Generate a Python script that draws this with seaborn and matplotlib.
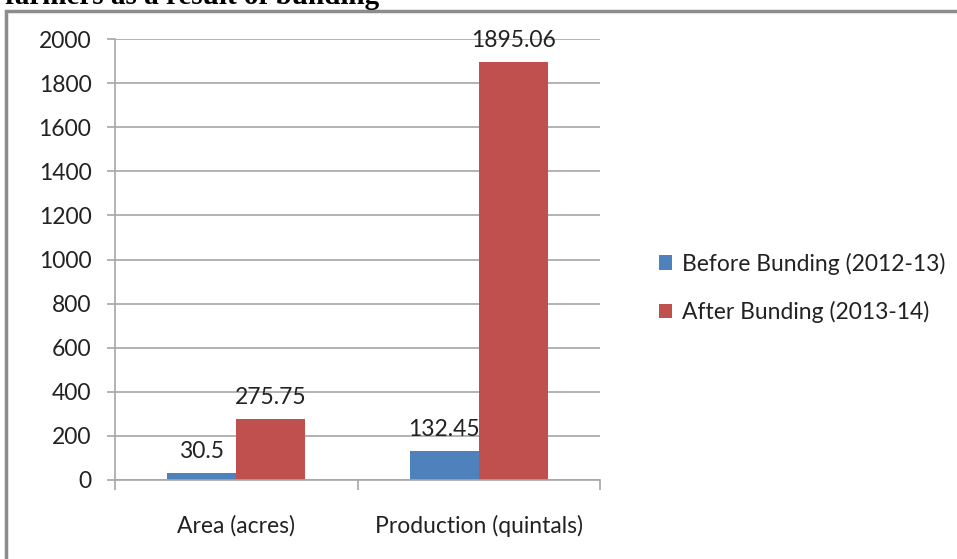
import matplotlib
matplotlib.use("Agg")
import matplotlib.pyplot as plt
import seaborn as sns
import pandas as pd
from matplotlib.patches import Rectangle
from matplotlib.ticker import FixedLocator

categories = ["Area (acres)", "Production (quintals)"]
series_names = ["Before Bunding (2012-13)", "After Bunding (2013-14)"]
before_vals = [30.5, 132.45]
after_vals = [275.75, 1895.06]
label_before = ["30.5", "132.45"]
label_after = ["275.75", "1895.06"]
yticks = [0, 200, 400, 600, 800, 1000, 1200, 1400, 1600, 1800, 2000]

df = pd.DataFrame({
    "category": categories * 2,
    "series": [series_names[0]] * 2 + [series_names[1]] * 2,
    "value": before_vals + after_vals,
})

sns.set_style("white")
plt.rcParams["font.family"] = ["Lato", "DejaVu Sans"]

FS = 16.5
W, H = 957, 559
fig = plt.figure(figsize=(W / 100, H / 100), dpi=100)
ax = fig.add_axes([115 / W, (H - 480) / H, (600 - 115) / W, (480 - 39) / H])

palette = {series_names[0]: "#4F81BD", series_names[1]: "#C0504D"}
sns.barplot(data=df, x="category", y="value", hue="series", order=categories,
            hue_order=series_names, palette=palette, width=0.57, ax=ax,
            saturation=1, linewidth=0, legend=True)

ax.set_ylim(0, 2000)
ax.set_xlim(-0.5, 1.5)
ax.set_yticks(yticks)
ax.set_yticklabels([str(t) for t in yticks], fontsize=FS, color="#222222")
ax.yaxis.grid(True, color="#a6a6a6", linewidth=1.2)
ax.set_axisbelow(True)
for s in ["top", "right"]:
    ax.spines[s].set_visible(False)
for s in ["left", "bottom"]:
    ax.spines[s].set_color("#a6a6a6")
    ax.spines[s].set_linewidth(1.2)
ax.tick_params(axis="y", which="major", length=6, width=1.2, color="#a6a6a6",
               direction="out", left=True, pad=11)
ax.tick_params(axis="x", which="major", length=0, pad=25)
ax.xaxis.set_minor_locator(FixedLocator([-0.5, 0.5, 1.5]))
ax.tick_params(axis="x", which="minor", length=7, width=1.2, color="#a6a6a6",
               direction="out", bottom=True)
ax.set_xticks(range(len(categories)))
ax.set_xticklabels(categories, fontsize=FS, color="#222222")
ax.set_xlabel("")
ax.set_ylabel("")

# data labels
for cont, labels in zip(ax.containers, [label_before, label_after]):
    ax.bar_label(cont, labels=labels, fontsize=FS, color="#222222", padding=8)

handles, labs = ax.get_legend_handles_labels()
ax.legend(handles, labs, loc="center left", bbox_to_anchor=(638 / W, (H - 288) / H),
          bbox_transform=fig.transFigure, frameon=False, fontsize=FS,
          handlelength=0.6, handleheight=0.6, handletextpad=0.4,
          labelspacing=1.15, labelcolor="#222222")

# outer border
fig.patches.append(Rectangle((6 / W, -0.01), 1.05, (H - 11) / H + 0.01,
                             transform=fig.transFigure, fill=False,
                             edgecolor="#8c8c8c", linewidth=2.5))

# partially visible heading
fig.text(5 / W, (H - 4) / H, "farmers as a result of bunding",
         fontsize=21, fontweight="bold", family="Liberation Serif",
         va="baseline", ha="left", color="black")

fig.savefig("out.png", dpi=100)
